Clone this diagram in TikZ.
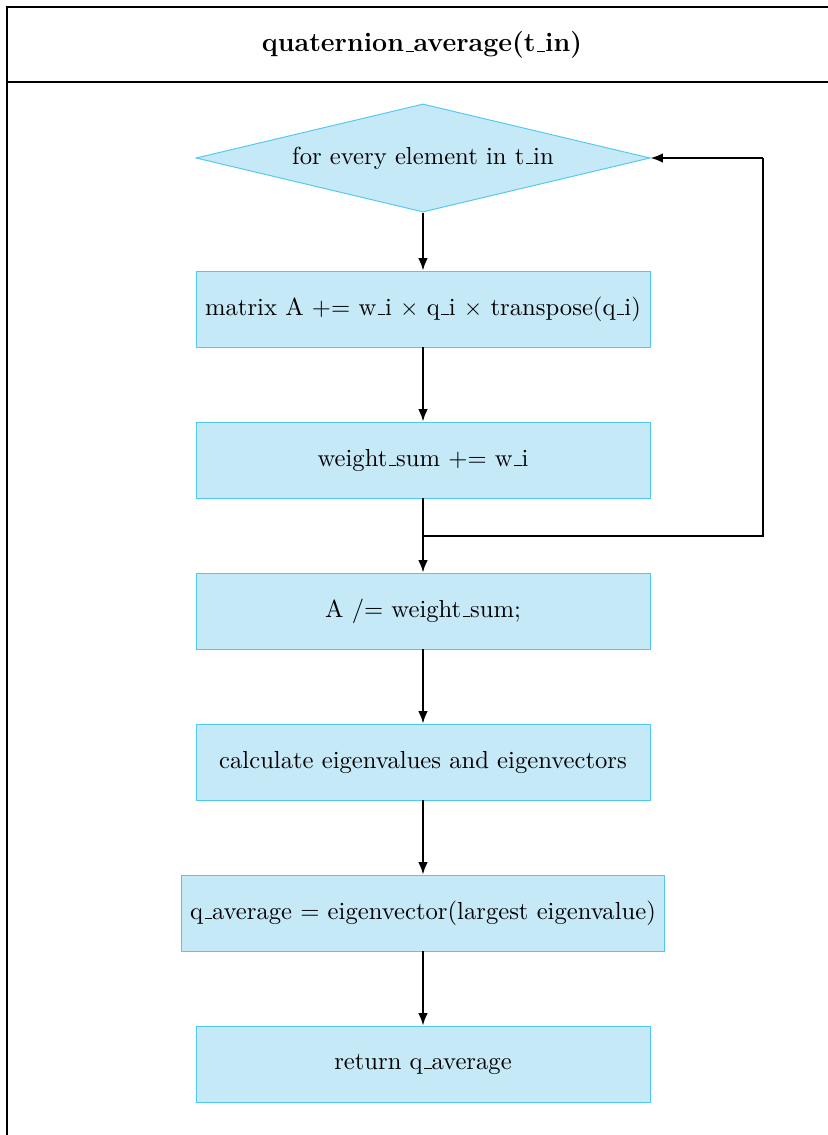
\documentclass[tikz,border=0pt]{standalone}
\usetikzlibrary{shapes.geometric,arrows.meta}
\definecolor{boxfill}{RGB}{198,233,248}
\definecolor{boxline}{RGB}{80,200,240}
% short low underscore, as in classic LaTeX fonts
\newcommand\us{\leavevmode\kern.06em\vbox{\hrule width.3em}}
\begin{document}
\begin{tikzpicture}[x=0.42pt,y=-0.42pt,
  font=\fontsize{10.35}{12.5}\selectfont,
  stepbox/.style={rectangle,draw=boxline,fill=boxfill,line width=0.4pt,
    minimum width=190.7pt,minimum height=31.9pt,inner sep=3pt},
  loopbox/.style={diamond,aspect=4.2,draw=boxline,fill=boxfill,line width=0.4pt,
    minimum width=190.7pt,minimum height=45.4pt,inner sep=0pt},
  flow/.style={line width=0.8pt,-{Latex[length=5.2pt,width=4pt]}},
  wire/.style={line width=0.8pt},
  frame/.style={line width=0.8pt}]
  \useasboundingbox (0,0) rectangle (828,1135);
  \clip (0,0) rectangle (828,1135);

  % swimlane frame and header
  \draw[frame] (7,1140) -- (7,7) -- (835,7);
  \draw[frame] (7,82) -- (835,82);
  \node[font=\fontsize{11.25}{13.5}\selectfont\bfseries] (title) at (422,45) {quaternion\us average(t\us in)};

  % flow steps
  \node[loopbox] (loop) at (423,158) {for every element in t\us in};
  \node[stepbox] (accum) at (423,309) {matrix A += w\us i $\times$ q\us i $\times$ transpose(q\us i)};
  \node[stepbox] (wsum) at (423,460) {weight\us sum += w\us i};
  \node[stepbox] (norm) at (423,611) {A /= weight\us sum;};
  \node[stepbox] (eig) at (423,762) {calculate eigenvalues and eigenvectors};
  \node[stepbox,minimum width=202.9pt] (pick) at (423,913) {q\us average = eigenvector(largest eigenvalue)};
  \node[stepbox] (ret) at (423,1064) {return q\us average};

  % connectors
  \draw[flow] (loop.south) -- (accum.north);
  \draw[flow] (accum.south) -- (wsum.north);
  \draw[flow] (wsum.south) -- (norm.north);
  \draw[flow] (norm.south) -- (eig.north);
  \draw[flow] (eig.south) -- (pick.north);
  \draw[flow] (pick.south) -- (ret.north);

  % loop back to the iteration test
  \coordinate (split) at (423,536);
  \coordinate (turnlow) at (763,536);
  \coordinate (turnhigh) at (763,158);
  \draw[wire] (split) -- (turnlow) -- (turnhigh);
  \draw[flow] (turnhigh) -- (loop.east);
\end{tikzpicture}
\end{document}
